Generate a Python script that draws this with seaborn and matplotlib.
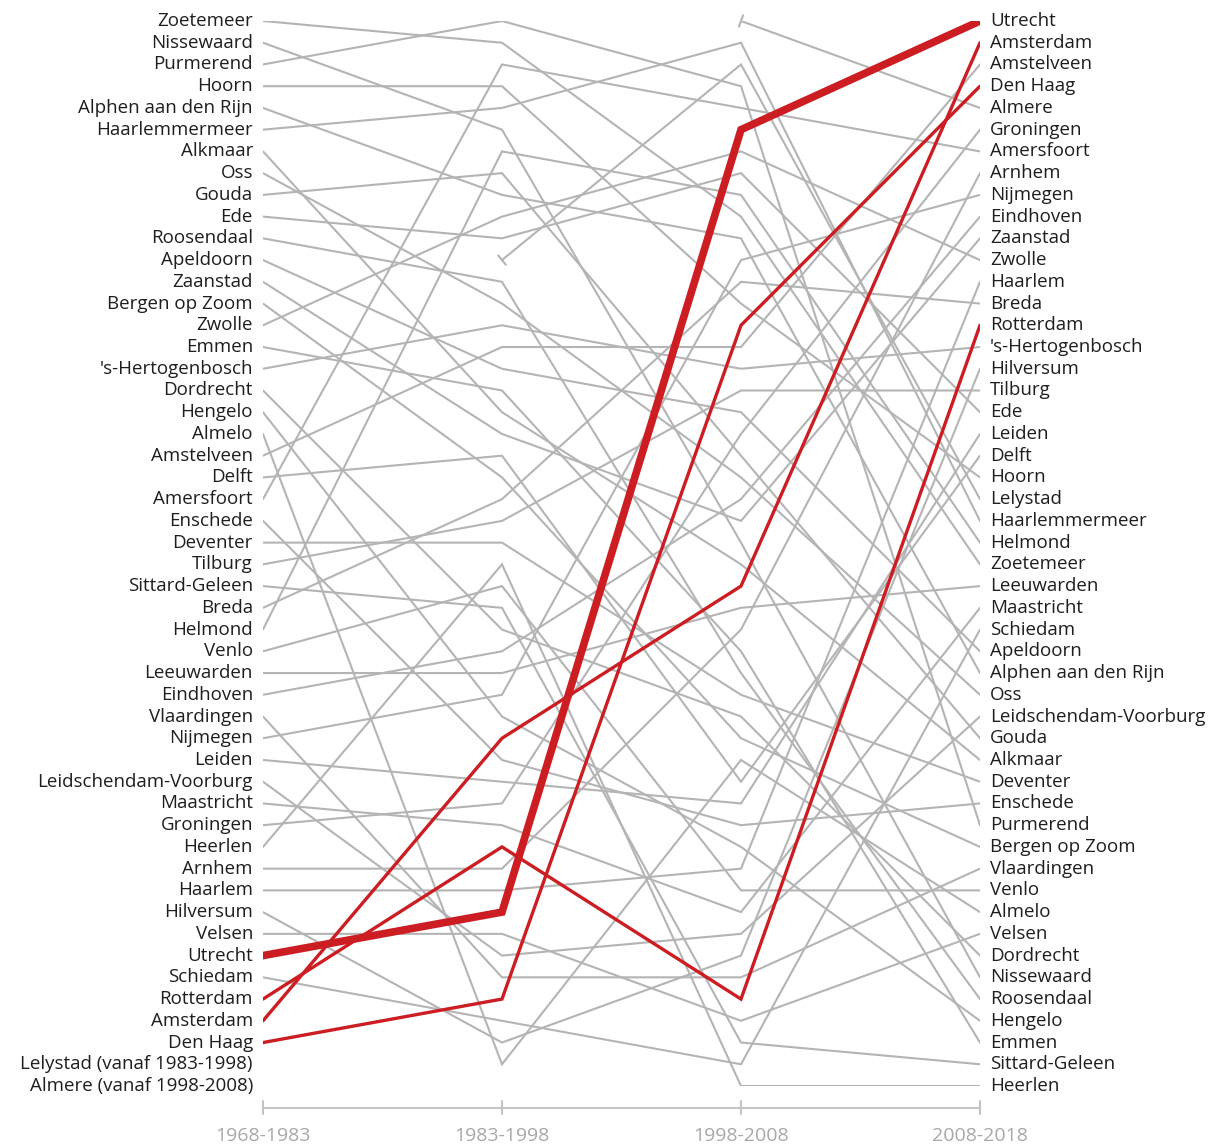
import numpy as np
import pandas as pd
import matplotlib
matplotlib.use("Agg")
import matplotlib.pyplot as plt
import seaborn as sns

# ranking per period (rank 1 first)
periods = ["1968-1983", "1983-1998", "1998-2008", "2008-2018"]

order_1968 = [
    "Zoetemeer", "Nissewaard", "Purmerend", "Hoorn", "Alphen aan den Rijn",
    "Haarlemmermeer", "Alkmaar", "Oss", "Gouda", "Ede", "Roosendaal", "Apeldoorn",
    "Zaanstad", "Bergen op Zoom", "Zwolle", "Emmen", "'s-Hertogenbosch", "Dordrecht",
    "Hengelo", "Almelo", "Amstelveen", "Delft", "Amersfoort", "Enschede", "Deventer",
    "Tilburg", "Sittard-Geleen", "Breda", "Helmond", "Venlo", "Leeuwarden", "Eindhoven",
    "Vlaardingen", "Nijmegen", "Leiden", "Leidschendam-Voorburg", "Maastricht",
    "Groningen", "Heerlen", "Arnhem", "Haarlem", "Hilversum", "Velsen", "Utrecht",
    "Schiedam", "Rotterdam", "Amsterdam", "Den Haag",
    "Lelystad (vanaf 1983-1998)", "Almere (vanaf 1998-2008)",
]

order_1983 = [
    "Purmerend", "Zoetemeer", "Amersfoort", "Hoorn", "Haarlemmermeer", "Nissewaard",
    "Helmond", "Gouda", "Alphen aan den Rijn", "Zwolle", "Ede", "Lelystad", "Roosendaal",
    "Oss", "'s-Hertogenbosch", "Amstelveen", "Apeldoorn", "Emmen", "Alkmaar", "Zaanstad",
    "Delft", "Bergen op Zoom", "Breda", "Tilburg", "Deventer", "Heerlen", "Venlo",
    "Sittard-Geleen", "Dordrecht", "Eindhoven", "Leeuwarden", "Nijmegen", "Hengelo",
    "Amsterdam", "Enschede", "Leiden", "Groningen", "Maastricht", "Rotterdam", "Arnhem",
    "Haarlem", "Utrecht", "Velsen", "Leidschendam-Voorburg", "Vlaardingen", "Den Haag",
    "Schiedam", "Hilversum", "Almelo",
]

order_1998 = [
    "Almere", "Haarlemmermeer", "Lelystad", "Purmerend", "Amersfoort", "Utrecht", "Zwolle",
    "Ede", "Helmond", "Zoetemeer", "Alphen aan den Rijn", "Nijmegen", "Breda", "Hoorn",
    "Den Haag", "Amstelveen", "'s-Hertogenbosch", "Tilburg", "Apeldoorn", "Groningen",
    "Gouda", "Oss", "Eindhoven", "Zaanstad", "Nissewaard", "Alkmaar", "Amsterdam",
    "Leeuwarden", "Arnhem", "Emmen", "Roosendaal", "Deventer", "Dordrecht",
    "Bergen op Zoom", "Almelo", "Delft", "Leiden", "Enschede", "Hengelo", "Haarlem",
    "Venlo", "Maastricht", "Leidschendam-Voorburg", "Hilversum", "Vlaardingen",
    "Rotterdam", "Velsen", "Sittard-Geleen", "Schiedam", "Heerlen",
]

order_2008 = [
    "Utrecht", "Amsterdam", "Amstelveen", "Den Haag", "Almere", "Groningen", "Amersfoort",
    "Arnhem", "Nijmegen", "Eindhoven", "Zaanstad", "Zwolle", "Haarlem", "Breda",
    "Rotterdam", "'s-Hertogenbosch", "Hilversum", "Tilburg", "Ede", "Leiden", "Delft",
    "Hoorn", "Lelystad", "Haarlemmermeer", "Helmond", "Zoetemeer", "Leeuwarden",
    "Maastricht", "Schiedam", "Apeldoorn", "Alphen aan den Rijn", "Oss",
    "Leidschendam-Voorburg", "Gouda", "Alkmaar", "Deventer", "Enschede", "Purmerend",
    "Bergen op Zoom", "Vlaardingen", "Venlo", "Almelo", "Velsen", "Dordrecht",
    "Nissewaard", "Roosendaal", "Hengelo", "Emmen", "Sittard-Geleen", "Heerlen",
]

highlight = ["Amsterdam", "Den Haag", "Rotterdam"]
main_city = "Utrecht"

GRAY = "#b4b4b4"
RED = "#cc1d22"
AXIS = "#c4c4c4"
FS = 13.5

rows = []
for i, order in enumerate([order_1968, order_1983, order_1998, order_2008]):
    for r, name in enumerate(order, start=1):
        if "(vanaf" in name:
            continue
        rows.append({"period": i, "city": name, "rank": r})
df = pd.DataFrame(rows)

sns.set_theme(style="white")
plt.rcParams["font.family"] = ["Open Sans", "DejaVu Sans"]

W, H = 1208, 1146
fig = plt.figure(figsize=(W / 100, H / 100), dpi=100)
ax = fig.add_axes([263 / W, 1 - 1086 / H, (980 - 263) / W, (1086 - 21) / H])

gray_df = df[~df["city"].isin(highlight + [main_city])]
sns.lineplot(data=gray_df, x="period", y="rank", units="city", estimator=None,
             color=GRAY, linewidth=1.5, ax=ax, solid_joinstyle="miter")
sns.lineplot(data=df[df["city"].isin(highlight)], x="period", y="rank", units="city",
             estimator=None, color=RED, linewidth=2.4, ax=ax,
             solid_joinstyle="miter", solid_capstyle="round")
sns.lineplot(data=df[df["city"] == main_city], x="period", y="rank", units="city",
             estimator=None, color=RED, linewidth=5.5, ax=ax,
             solid_joinstyle="miter", solid_capstyle="round")

ax.set_xlim(0, 3)
ax.set_ylim(50, 1)
ax.axis("off")

# start ticks for cities that begin later
for city in ["Lelystad", "Almere"]:
    sub = df[df["city"] == city].sort_values("period")
    p0 = ax.transData.transform((sub["period"].iloc[0], sub["rank"].iloc[0]))
    p1 = ax.transData.transform((sub["period"].iloc[1], sub["rank"].iloc[1]))
    d = (p1 - p0) / np.linalg.norm(p1 - p0)
    perp = np.array([-d[1], d[0]]) * 6
    a = ax.transData.inverted().transform(p0 + perp)
    b = ax.transData.inverted().transform(p0 - perp)
    ax.plot([a[0], b[0]], [a[1], b[1]], color=GRAY, lw=1.5, clip_on=False)

# labels
for r, name in enumerate(order_1968, start=1):
    ax.text(-0.042, r, name, ha="right", va="center", fontsize=FS,
            color="#1e1e1e", clip_on=False)
for r, name in enumerate(order_2008, start=1):
    ax.text(3.042, r, name, ha="left", va="center", fontsize=FS,
            color="#1e1e1e", clip_on=False)

# time axis
ax.plot([0, 3], [51.0, 51.0], color=AXIS, lw=1.5, clip_on=False)
for i, p in enumerate(periods):
    ax.plot([i, i], [50.7, 51.3], color=AXIS, lw=1.5, clip_on=False)
    ax.text(i, 52.3, p, ha="center", va="center", fontsize=14,
            color="#a8a8a8", clip_on=False)

fig.savefig("out.png", dpi=100)
